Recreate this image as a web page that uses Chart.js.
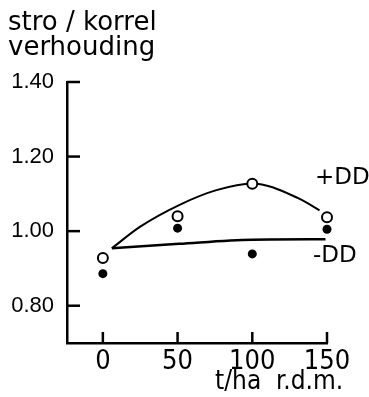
<!DOCTYPE html>
<html lang="nl">
<head>
    <meta charset="UTF-8">
    <title>stro / korrel verhouding</title>
    <script src="https://cdn.jsdelivr.net/npm/chart.js"></script>
    <style>
        body { margin: 0; background: #fff; }
    </style>
</head>
<body>
    <canvas id="ratioChart" width="369" height="397"></canvas>
    <script>
        // dose in t/ha r.d.m.
        const doses = [0, 50, 100, 150];
        const metDD = [0.928, 1.040, 1.127, 1.037];      // open circles, +DD
        const zonderDD = [0.886, 1.008, 0.939, 1.005];   // filled circles, -DD

        // fitted curves
        const curvePlusX = [6, 25, 51, 76, 100, 131, 145];
        const curvePlusY = [0.954, 1.012, 1.070, 1.110, 1.128, 1.088, 1.056];
        const curveMinX = [6, 51, 100, 149];
        const curveMinY = [0.954, 0.966, 0.977, 0.978];

        const xTicks = [0, 50, 100, 150];
        const yTicks = [0.80, 1.00, 1.20, 1.40];

        const narrow = "'Liberation Sans Narrow', 'DejaVu Sans Condensed', 'DejaVu Sans', sans-serif";
        const plain = "'DejaVu Sans', sans-serif";
        const arial = "'Liberation Sans', 'DejaVu Sans', sans-serif";

        const toXY = (xs, ys) => xs.map((x, i) => ({ x: x, y: ys[i] }));

        // inward tick marks and free text labels
        const extras = {
            id: 'extras',
            afterDraw(chart) {
                const { ctx, chartArea, scales } = chart;
                ctx.save();
                ctx.strokeStyle = '#000';
                ctx.lineWidth = 2.5;
                xTicks.forEach(v => {
                    const px = scales.x.getPixelForValue(v);
                    ctx.beginPath();
                    ctx.moveTo(px, chartArea.bottom);
                    ctx.lineTo(px, chartArea.bottom - 11);
                    ctx.stroke();
                });
                yTicks.forEach(v => {
                    const py = scales.y.getPixelForValue(v);
                    ctx.beginPath();
                    ctx.moveTo(chartArea.left, py);
                    ctx.lineTo(chartArea.left + 13, py);
                    ctx.stroke();
                });

                ctx.fillStyle = '#000';
                ctx.textBaseline = 'middle';
                ctx.textAlign = 'left';
                ctx.font = '23px ' + plain;
                ctx.fillText('+DD', 315, 178);
                ctx.fillText('-DD', 313, 256);

                ctx.textBaseline = 'alphabetic';
                ctx.font = '26px ' + narrow;
                ctx.fillText('t/ha  r.d.m.', 215, 389);
                ctx.restore();
            }
        };

        new Chart(document.getElementById('ratioChart'), {
            type: 'scatter',
            data: {
                datasets: [
                    {
                        label: '+DD',
                        data: toXY(doses, metDD),
                        pointStyle: 'circle',
                        pointRadius: 5,
                        pointBorderWidth: 2,
                        pointBackgroundColor: '#fff',
                        pointBorderColor: '#000',
                        showLine: false,
                        clip: false
                    },
                    {
                        label: '-DD',
                        data: toXY(doses, zonderDD),
                        pointRadius: 4.5,
                        pointBorderWidth: 0,
                        pointBackgroundColor: '#000',
                        pointBorderColor: '#000',
                        showLine: false,
                        clip: false
                    },
                    {
                        label: 'curve +DD',
                        data: toXY(curvePlusX, curvePlusY),
                        showLine: true,
                        pointRadius: 0,
                        borderColor: '#000',
                        borderWidth: 2,
                        cubicInterpolationMode: 'monotone',
                        clip: false
                    },
                    {
                        label: 'curve -DD',
                        data: toXY(curveMinX, curveMinY),
                        showLine: true,
                        pointRadius: 0,
                        borderColor: '#000',
                        borderWidth: 2.5,
                        cubicInterpolationMode: 'monotone',
                        clip: false
                    }
                ]
            },
            options: {
                responsive: false,
                animation: false,
                layout: { padding: { left: 8, right: 42, top: 0, bottom: 0 } },
                plugins: {
                    legend: { display: false },
                    tooltip: { enabled: false },
                    title: {
                        display: true,
                        text: ['stro / korrel', 'verhouding'],
                        align: 'start',
                        color: '#000',
                        font: { family: plain, size: 26, weight: 'normal', lineHeight: 0.95 },
                        padding: { top: 11, bottom: 21.6 }
                    }
                },
                scales: {
                    x: {
                        type: 'linear',
                        min: -24,
                        max: 150,
                        afterBuildTicks: s => { s.ticks = xTicks.map(v => ({ value: v })); },
                        afterFit: s => { s.height = 54; },
                        grid: { display: false, drawTicks: false },
                        border: { display: true, color: '#000', width: 2.5 },
                        ticks: { color: '#000', padding: 3, font: { family: narrow, size: 27 } }
                    },
                    y: {
                        min: 0.70,
                        max: 1.40,
                        afterBuildTicks: s => { s.ticks = yTicks.map(v => ({ value: v })); },
                        afterFit: s => { s.width = 59; },
                        grid: { display: false, drawTicks: false },
                        border: { display: true, color: '#000', width: 2.5 },
                        ticks: {
                            color: '#000',
                            padding: 13,
                            font: { family: arial, size: 22 },
                            callback: v => v.toFixed(2)
                        }
                    }
                }
            },
            plugins: [extras]
        });
    </script>
</body>
</html>
